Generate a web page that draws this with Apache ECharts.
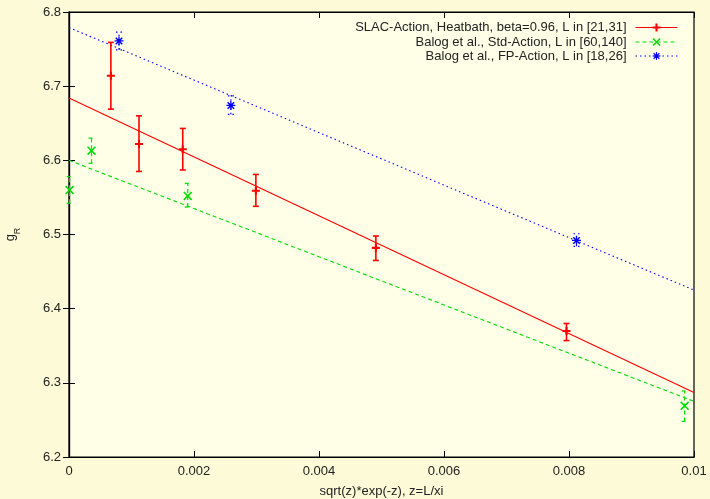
<!DOCTYPE html>
<html>
<head>
<meta charset="utf-8">
<script src="https://cdn.jsdelivr.net/npm/echarts@6/dist/echarts.min.js"></script>
<style>html,body{margin:0;padding:0;background:#fdfbd7;}#c{width:710px;height:499px;}</style>
</head>
<body>
<div id="c"></div>
<script>
// ---- data ----
var xTicks = [0, 0.002, 0.004, 0.006, 0.008, 0.01];
var yTicks = [6.2, 6.3, 6.4, 6.5, 6.6, 6.7, 6.8];

var seriesNames = [
  'SLAC-Action, Heatbath, beta=0.96, L in [21,31]',
  'Balog et al., Std-Action, L in [60,140]',
  'Balog et al., FP-Action, L in [18,26]'
];

// points: x, y, yLow, yHigh
var slacX    = [0.00067, 0.00112, 0.00182, 0.00299, 0.00491, 0.00796];
var slacY    = [6.714, 6.622, 6.615, 6.559, 6.482, 6.370];
var slacLow  = [6.669, 6.585, 6.587, 6.538, 6.465, 6.357];
var slacHigh = [6.759, 6.660, 6.643, 6.581, 6.498, 6.380];

var stdX    = [0.00001, 0.00036, 0.00190, 0.00985];
var stdY    = [6.560, 6.613, 6.552, 6.269];
var stdLow  = [6.542, 6.596, 6.537, 6.248];
var stdHigh = [6.578, 6.630, 6.569, 6.289];

var fpX    = [0.00080, 0.00259, 0.00812];
var fpY    = [6.761, 6.674, 6.492];
var fpLow  = [6.749, 6.662, 6.484];
var fpHigh = [6.773, 6.687, 6.501];

// fit lines (endpoints at x = 0 and x = 0.01)
var fitX    = [0, 0.01];
var slacFit = [6.684, 6.287];
var stdFit  = [6.600, 6.275];
var fpFit   = [6.779, 6.425];

// ---- helpers ----
var colors = ['#ff0000', '#00dd00', '#0000ff'];
var plusPath = 'path://M3.7,0H6.3V3.7H10V6.3H6.3V10H3.7V6.3H0V3.7H3.7Z';
var xPath = 'path://M1.0,2.0L2.0,1.0L9.0,8.0L8.0,9.0ZM8.0,1.0L9.0,2.0L2.0,9.0L1.0,8.0Z';
var starPath = 'path://M4.3,0H5.7V4.3H10V5.7H5.7V10H4.3V5.7H0V4.3H4.3ZM0.8,2.0L2.0,0.8L9.2,8.0L8.0,9.2ZM8.0,0.8L9.2,2.0L2.0,9.2L0.8,8.0Z';
var symbols = [plusPath, xPath, starPath];
var dashes = ['solid', [4, 3], [1.5, 3]];

function zip2(a, b) { return a.map(function (v, i) { return [v, b[i]]; }); }
function zip3(a, b, c) { return a.map(function (v, i) { return [v, b[i], c[i]]; }); }

function errRender(color, dash, width, cap) {
  return function (params, api) {
    var x = api.value(0);
    var p1 = api.coord([x, api.value(1)]);
    var p2 = api.coord([x, api.value(2)]);
    var st = { stroke: color, lineWidth: width, lineDash: dash === 'solid' ? null : dash };
    return {
      type: 'group',
      children: [
        { type: 'line', shape: { x1: p1[0], y1: p1[1], x2: p2[0], y2: p2[1] }, style: st },
        { type: 'line', shape: { x1: p1[0] - cap, y1: p1[1], x2: p1[0] + cap, y2: p1[1] }, style: st },
        { type: 'line', shape: { x1: p2[0] - cap, y1: p2[1], x2: p2[0] + cap, y2: p2[1] }, style: st }
      ]
    };
  };
}

var fits = [slacFit, stdFit, fpFit];
var pts = [zip2(slacX, slacY), zip2(stdX, stdY), zip2(fpX, fpY)];
var errs = [zip3(slacX, slacLow, slacHigh), zip3(stdX, stdLow, stdHigh), zip3(fpX, fpLow, fpHigh)];

var series = [];
for (var i = 0; i < 3; i++) {
  series.push({
    name: seriesNames[i], type: 'line', data: zip2(fitX, fits[i]),
    showSymbol: false, symbol: symbols[i], symbolSize: 8,
    lineStyle: { color: colors[i], width: 1.1, type: dashes[i] },
    itemStyle: { color: colors[i] }, silent: true, animation: false, z: 2
  });
}
var errWidth = [1.6, 1.2, 1.2];
var errCap = [3, 3, 3];
for (var j = 0; j < 3; j++) {
  series.push({
    type: 'custom', renderItem: errRender(colors[j], dashes[j], errWidth[j], errCap[j]),
    data: errs[j], clip: false, animation: false, z: 3,
    encode: { x: 0, y: [1, 2] }
  });
  series.push({
    type: 'scatter', data: pts[j], symbol: symbols[j], symbolSize: j === 0 ? 8 : 9,
    itemStyle: { color: colors[j], opacity: 1 }, clip: false, animation: false, z: 4
  });
}

var labelStyle = { color: '#222', fontSize: 13, fontFamily: 'Liberation Sans, Arial, sans-serif' };
var legendTops = [21, 35.5, 49.5];
var legends = seriesNames.map(function (n, i) {
  return {
    data: [n], right: 32, top: legendTops[i], orient: 'vertical', align: 'right',
    itemWidth: 42, itemHeight: 10, padding: 0, selectedMode: false,
    lineStyle: { width: 1 },
    textStyle: { color: '#222', fontSize: 13, fontFamily: 'Liberation Sans, Arial, sans-serif', padding: [0, 4, 0, 0] }
  };
});

var axisLine = { show: true, lineStyle: { color: '#000', width: 1.2 } };
var tickIn = { show: true, inside: true, length: 6, lineStyle: { color: '#000' } };

var option = {
  backgroundColor: '#fdfbd7',
  animation: false,
  grid: { left: 69, right: 16, top: 12, bottom: 42, outerBoundsMode: 'none', containLabel: false, show: true, backgroundColor: '#ffffe8', borderColor: '#000', borderWidth: 1.2 },
  legend: legends,
  xAxis: [
    {
      type: 'value', min: xTicks[0], max: xTicks[xTicks.length - 1], interval: xTicks[1] - xTicks[0],
      position: 'bottom', axisLine: axisLine, axisTick: tickIn, splitLine: { show: false },
      axisLabel: Object.assign({ margin: 8, formatter: function (v) { return String(+v.toFixed(4)); } }, labelStyle),
      name: 'sqrt(z)*exp(-z), z=L/xi', nameLocation: 'middle', nameGap: 28,
      nameTextStyle: labelStyle
    },
    {
      type: 'value', min: xTicks[0], max: xTicks[xTicks.length - 1], interval: xTicks[1] - xTicks[0],
      position: 'top', axisLine: axisLine, axisTick: tickIn, splitLine: { show: false },
      axisLabel: { show: false }
    }
  ],
  yAxis: [
    {
      type: 'value', min: yTicks[0], max: yTicks[yTicks.length - 1], interval: 0.1,
      position: 'left', axisLine: axisLine, axisTick: tickIn, splitLine: { show: false },
      axisLabel: Object.assign({ margin: 8, formatter: function (v) { return v.toFixed(1); } }, labelStyle),
      name: '{g|g}{r|R}', nameLocation: 'middle', nameGap: 47, nameRotate: 90,
      nameTextStyle: {
        rich: {
          g: { fontSize: 13, color: '#222', fontFamily: 'Liberation Sans, Arial, sans-serif', lineHeight: 18, verticalAlign: 'top' },
          r: { fontSize: 9, color: '#222', fontFamily: 'Liberation Sans, Arial, sans-serif', lineHeight: 18, verticalAlign: 'bottom', padding: [8, 0, 0, 0] }
        }
      }
    },
    {
      type: 'value', min: yTicks[0], max: yTicks[yTicks.length - 1], interval: 0.1,
      position: 'right', axisLine: axisLine, axisTick: tickIn, splitLine: { show: false },
      axisLabel: { show: false }
    }
  ],
  series: series
};

var chart = echarts.init(document.getElementById('c'), null, { renderer: 'canvas' });
chart.setOption(option);
</script>
</body>
</html>
